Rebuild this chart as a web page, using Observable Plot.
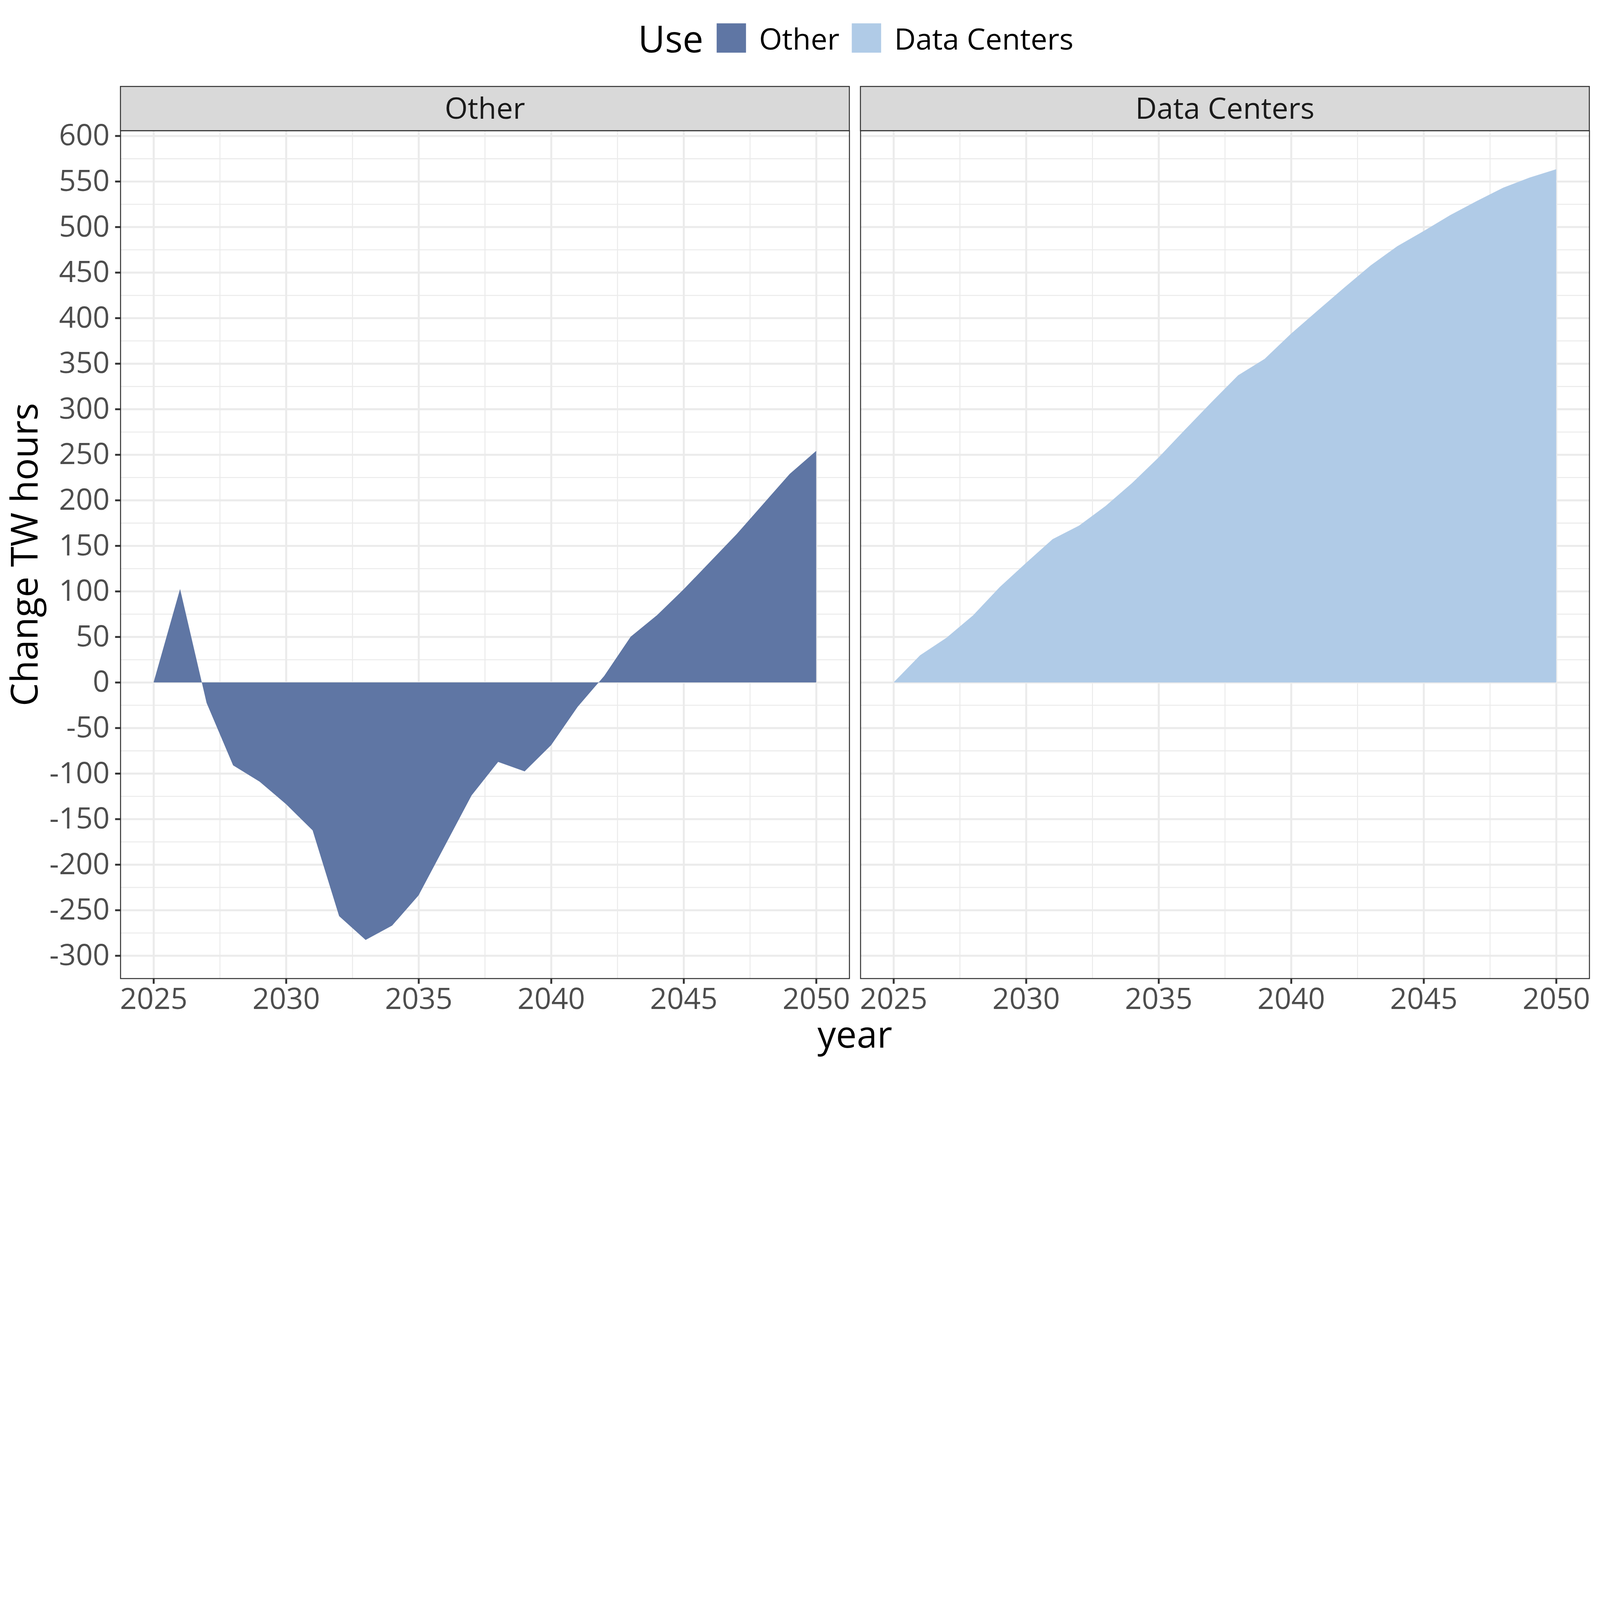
<!DOCTYPE html>
<html>
<head>
<meta charset="utf-8">
<script src="https://cdn.jsdelivr.net/npm/d3@7"></script>
<script src="https://cdn.jsdelivr.net/npm/@observablehq/plot@0.6"></script>
<style>
  html, body { margin: 0; padding: 0; background: #ffffff; overflow: hidden; }
  #fig { position: relative; width: 7200px; height: 4800px; overflow: hidden; background: #ffffff;
         font-family: "Open Sans", "Noto Sans", sans-serif; transform-origin: 0 0; }
  #legend { position: absolute; left: 0; top: 105px; width: 7702px; height: 132px;
            display: flex; justify-content: center; align-items: center; color: #000000; }
  #legend .title { font-size: 166px; margin-right: 60px; }
  #legend .swatch { width: 132px; height: 132px; margin-right: 59px; flex: none; }
  #legend .lab { font-size: 133px; margin-right: 56px; white-space: nowrap; }
  #legend .lab:last-child { margin-right: 0; }
</style>
</head>
<body>
<div id="fig"></div>
<script>
// ---------- data ----------
const years = [2025, 2026, 2027, 2028, 2029, 2030, 2031, 2032, 2033, 2034, 2035, 2036, 2037,
               2038, 2039, 2040, 2041, 2042, 2043, 2044, 2045, 2046, 2047, 2048, 2049, 2050];
const otherValues = [0, 102.6, -22.5, -91.0, -108.9, -133.7, -162.5, -256.6, -282.7, -267.0, -233.7, -178.8, -124.0,
                     -87.3, -97.7, -68.8, -26.8, 7.0, 50.2, 73.9, 102.2, 132.5, 162.8, 195.9, 228.9, 254.2];
const dataCenterValues = [0, 29.8, 49.1, 73.6, 104.5, 131.2, 157.3, 172.2, 193.7, 218.9, 247.0, 277.6, 307.8,
                          337.1, 355.2, 382.9, 408.2, 433.3, 457.8, 478.8, 495.5, 513.0, 528.4, 543.1, 554.3, 563.4];
const uses = ["Other", "Data Centers"];
const useColors = ["#5F76A4", "#B0CBE7"];
const yTicks = [-300, -250, -200, -150, -100, -50, 0, 50, 100, 150, 200, 250, 300, 350, 400, 450, 500, 550, 600];
const xTicks = [2025, 2030, 2035, 2040, 2045, 2050];
const legendTitle = "Use";
const xTitle = "year";
const yTitle = "Change TW hours";

// ---------- table ----------
const seriesByUse = { "Other": otherValues, "Data Centers": dataCenterValues };
const rows = [];
for (const u of uses) years.forEach((yr, i) => rows.push({ use: u, year: yr, value: seriesByUse[u][i] }));

// ggplot-like 5% expansion of the shared scales
const yMin = d3.min(rows, d => d.value), yMax = d3.max(rows, d => d.value);
const yPad = 0.05 * (yMax - yMin);
const yDomain = [yMin - yPad, yMax + yPad];
const xMin = d3.min(years), xMax = d3.max(years);
const xPad = 0.05 * (xMax - xMin);
const xDomain = [xMin - xPad, xMax + xPad];
const yMinor = yTicks.slice(1).map((t, i) => (t + yTicks[i]) / 2);
const xMinor = xTicks.slice(1).map((t, i) => (t + xTicks[i]) / 2);

// ---------- layout ----------
const W = 7200, H = 4800;
const panelTop = 588, panelBottom = 4403;
const panels = [
  { svgLeft: 0, svgRight: 3847, left: 542, right: 3822 },
  { svgLeft: 3847, svgRight: 7200, left: 3872, right: 7152 }
];
const gridColor = "#EBEBEB";
const darkLine = "#333333";
const fig = document.getElementById("fig");
const fmt = d => String(d);

uses.forEach((u, i) => {
  const p = panels[i];
  const marks = [
    Plot.ruleY(yMinor, { stroke: gridColor, strokeWidth: 4.5 }),
    Plot.ruleX(xMinor, { stroke: gridColor, strokeWidth: 4.5 }),
    Plot.ruleY(yTicks, { stroke: gridColor, strokeWidth: 9 }),
    Plot.ruleX(xTicks, { stroke: gridColor, strokeWidth: 9 }),
    Plot.areaY(rows.filter(d => d.use === u), { x: "year", y: "value", fill: "use", curve: "linear" }),
    Plot.frame({ stroke: darkLine, strokeWidth: 4.5 }),
    Plot.axisX({ ticks: xTicks, tickFormat: fmt, tickSize: 24, tickPadding: 18, fontSize: 133,
                 stroke: darkLine, fill: "#4D4D4D", strokeWidth: 8.5, label: null })
  ];
  if (i === 0) {
    marks.push(Plot.axisY({ ticks: yTicks, tickFormat: fmt, tickSize: 24, tickPadding: 25, fontSize: 133,
                            stroke: darkLine, fill: "#4D4D4D", strokeWidth: 8.5, label: null }));
  }
  const svg = Plot.plot({
    width: p.svgRight - p.svgLeft,
    height: H,
    marginLeft: p.left - p.svgLeft,
    marginRight: p.svgRight - p.right,
    marginTop: panelTop,
    marginBottom: H - panelBottom,
    style: { fontFamily: '"Open Sans", "Noto Sans", sans-serif', background: "transparent", overflow: "visible" },
    x: { domain: xDomain, axis: null },
    y: { domain: yDomain, axis: null },
    color: { domain: uses, range: useColors },
    marks
  });
  svg.style.position = "absolute";
  svg.style.left = p.svgLeft + "px";
  svg.style.top = "0px";
  svg.style.maxWidth = "none";
  fig.appendChild(svg);
});

// ---------- overlay: strips and axis titles ----------
const overlay = d3.create("svg")
  .attr("width", W).attr("height", H)
  .style("position", "absolute").style("left", "0px").style("top", "0px")
  .style("font-family", '"Open Sans", "Noto Sans", sans-serif');
uses.forEach((u, i) => {
  const p = panels[i];
  overlay.append("rect")
    .attr("x", p.left).attr("y", 389).attr("width", p.right - p.left).attr("height", panelTop - 389)
    .attr("fill", "#D9D9D9").attr("stroke", darkLine).attr("stroke-width", 4.5);
  overlay.append("text")
    .attr("x", (p.left + p.right) / 2).attr("y", 535)
    .attr("text-anchor", "middle").attr("font-size", 133).attr("fill", "#1A1A1A")
    .text(u);
});
overlay.append("text")
  .attr("x", (panels[0].left + panels[1].right) / 2).attr("y", 4714)
  .attr("text-anchor", "middle").attr("font-size", 166).attr("fill", "#000000")
  .text(xTitle);
const yc = (panelTop + panelBottom) / 2;
overlay.append("text")
  .attr("transform", `translate(168,${yc}) rotate(-90)`)
  .attr("text-anchor", "middle").attr("font-size", 166).attr("fill", "#000000")
  .text(yTitle);
fig.appendChild(overlay.node());

// ---------- legend ----------
const legend = document.createElement("div");
legend.id = "legend";
const lt = document.createElement("span");
lt.className = "title"; lt.textContent = legendTitle;
legend.appendChild(lt);
uses.forEach((u, i) => {
  const sw = document.createElement("span");
  sw.className = "swatch"; sw.style.background = useColors[i];
  legend.appendChild(sw);
  const lab = document.createElement("span");
  lab.className = "lab"; lab.textContent = u;
  legend.appendChild(lab);
});
fig.appendChild(legend);

// ---------- fit the 7200x4800 figure into the viewport, keeping its proportions ----------
function fit() {
  const vw = window.innerWidth || document.documentElement.clientWidth;
  const vh = window.innerHeight || document.documentElement.clientHeight;
  const s = Math.min(vw / W, vh / H);
  fig.style.transform = s < 0.999 ? `scale(${s})` : "none";
}
fit();
window.addEventListener("resize", fit);
</script>
</body>
</html>
